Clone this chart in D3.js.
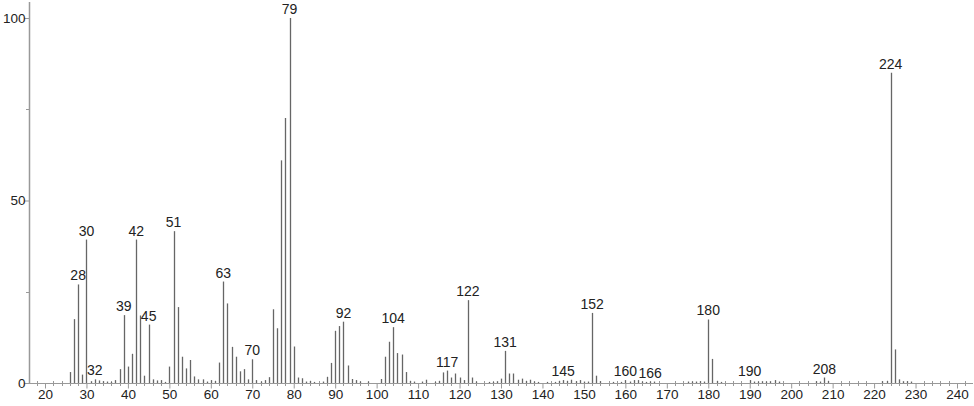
<!DOCTYPE html>
<html><head><meta charset="utf-8">
<script src="https://cdn.jsdelivr.net/npm/d3@7/dist/d3.min.js"></script>
<style>html,body{margin:0;padding:0;background:#fff;}svg{display:block;}</style>
</head><body>
<svg id="c" width="974" height="406"></svg>
<script>
const mz = [26,27,28,29,30,31,32,33,34,35,36,37,38,39,40,41,42,43,44,45,46,47,48,49,50,51,52,53,54,55,56,57,58,59,60,61,62,63,64,65,66,67,68,69,70,71,72,73,74,75,76,77,78,79,80,81,82,83,84,85,87,88,89,90,91,92,93,94,95,96,98,101,102,103,104,105,106,107,108,109,111,112,114,115,116,117,118,119,120,121,122,123,124,127,128,129,130,131,132,133,134,135,136,137,138,139,141,143,144,145,146,147,148,149,150,151,152,153,154,157,159,160,161,162,163,164,165,166,167,175,176,177,178,179,180,181,182,183,190,191,192,193,194,195,196,197,206,207,208,209,222,223,224,225,226,227,228,229];
const intensity = [3,17.5,27,2.3,39.3,0.5,1,0.7,0.5,0.4,0.3,0.8,3.8,18.6,4.5,8,39.3,18.5,2,16,1,0.7,0.8,0.3,4.5,41.6,20.8,7.2,4,6.3,1.8,1,1,0.4,0.8,0.6,5.6,27.8,21.8,9.9,7.2,3.2,3.8,1,6.5,0.8,0.4,0.8,1.6,20.2,15,61,72.6,100,10,1.5,1.3,0.4,0.6,0.3,0.4,1.7,5.5,14.3,15.6,16.8,4.8,1.1,0.8,0.4,0.4,1.1,7.2,11.3,15.3,8.2,7.8,3,0.6,0.4,0.4,0.9,0.3,0.6,2.9,3.4,1.5,2.6,1.5,0.8,22.7,1.5,0.4,0.3,0.3,0.5,1.2,8.8,2.6,2.6,0.9,1.2,0.6,0.9,0.4,0.3,0.3,0.3,0.6,0.8,0.6,0.9,0.5,0.8,0.4,0.4,19.2,2,0.5,0.3,0.3,0.8,0.4,0.8,0.8,0.4,0.3,0.4,0.4,0.4,0.4,0.4,0.5,0.4,17.4,6.6,0.6,0.3,0.8,0.4,0.4,0.5,0.4,0.5,0.8,0.4,0.5,0.4,1.5,0.6,0.5,0.6,85,9.2,1,0.5,0.5,0.4];
const labeled = [28,30,32,39,42,45,51,63,70,79,92,104,117,122,131,145,152,160,166,180,190,208,224];
const xTicks = [20,30,40,50,60,70,80,90,100,110,120,130,140,150,160,170,180,190,200,210,220,230,240];
const yTicks = [0,50,100];

const svg = d3.select("#c");
const x = d3.scaleLinear().domain([20,240]).range([45,957]);
const y = d3.scaleLinear().domain([0,100]).range([383,18]);
const axisColor = "#999";
const font = "'Liberation Sans', Arial, sans-serif";

// axes lines
svg.append("line").attr("x1",29.5).attr("x2",29.5).attr("y1",2).attr("y2",383.5).attr("stroke",axisColor).attr("stroke-width",1.5);
svg.append("line").attr("x1",29).attr("x2",973).attr("y1",383.5).attr("y2",383.5).attr("stroke",axisColor).attr("stroke-width",1);

// x axis
const xAxis = d3.axisBottom(x).tickValues(xTicks).tickSize(5).tickFormat(d3.format("d"));
const gx = svg.append("g").attr("transform","translate(0,383.5)").call(xAxis);
gx.select(".domain").remove();
gx.selectAll(".tick line").attr("stroke",axisColor);
gx.selectAll(".tick text").attr("font-family",font).attr("font-size",13.5).attr("fill","#222").attr("dy","0.95em").attr("y",3);
const minor = d3.range(18,243,2).filter(v=>v%10!==0);
svg.append("g").selectAll("line").data(minor).join("line")
  .attr("x1",d=>Math.round(x(d))+0.5).attr("x2",d=>Math.round(x(d))+0.5)
  .attr("y1",381).attr("y2",386).attr("stroke",axisColor);

// y axis
const yAxis = d3.axisLeft(y).tickValues(yTicks).tickSize(5).tickFormat(d3.format("d"));
const gy = svg.append("g").attr("transform","translate(29.5,0)").call(yAxis);
gy.select(".domain").remove();
gy.selectAll(".tick line").attr("stroke",axisColor);
gy.selectAll(".tick text").attr("font-family",font).attr("font-size",13.5).attr("fill","#222").attr("x",-4);
svg.append("g").selectAll("line").data([25,75]).join("line")
  .attr("x1",26).attr("x2",29).attr("y1",d=>Math.round(y(d))+0.5).attr("y2",d=>Math.round(y(d))+0.5).attr("stroke",axisColor);

// bars
const data = mz.map((m,i)=>({m, v: intensity[i]}));
svg.append("g").selectAll("line").data(data).join("line")
  .attr("x1",d=>Math.round(x(d.m))+0.5).attr("x2",d=>Math.round(x(d.m))+0.5)
  .attr("y1",383).attr("y2",d=>y(d.v))
  .attr("stroke","#666").attr("stroke-width",1.3);

// labels
const lab = data.filter(d=>labeled.includes(d.m));
svg.append("g").selectAll("text").data(lab).join("text")
  .attr("x",d=>x(d.m)).attr("y",d=>y(d.v)-4)
  .attr("text-anchor","middle").attr("font-family",font).attr("font-size",14).attr("fill","#222")
  .text(d=>d.m);
</script>
</body></html>
